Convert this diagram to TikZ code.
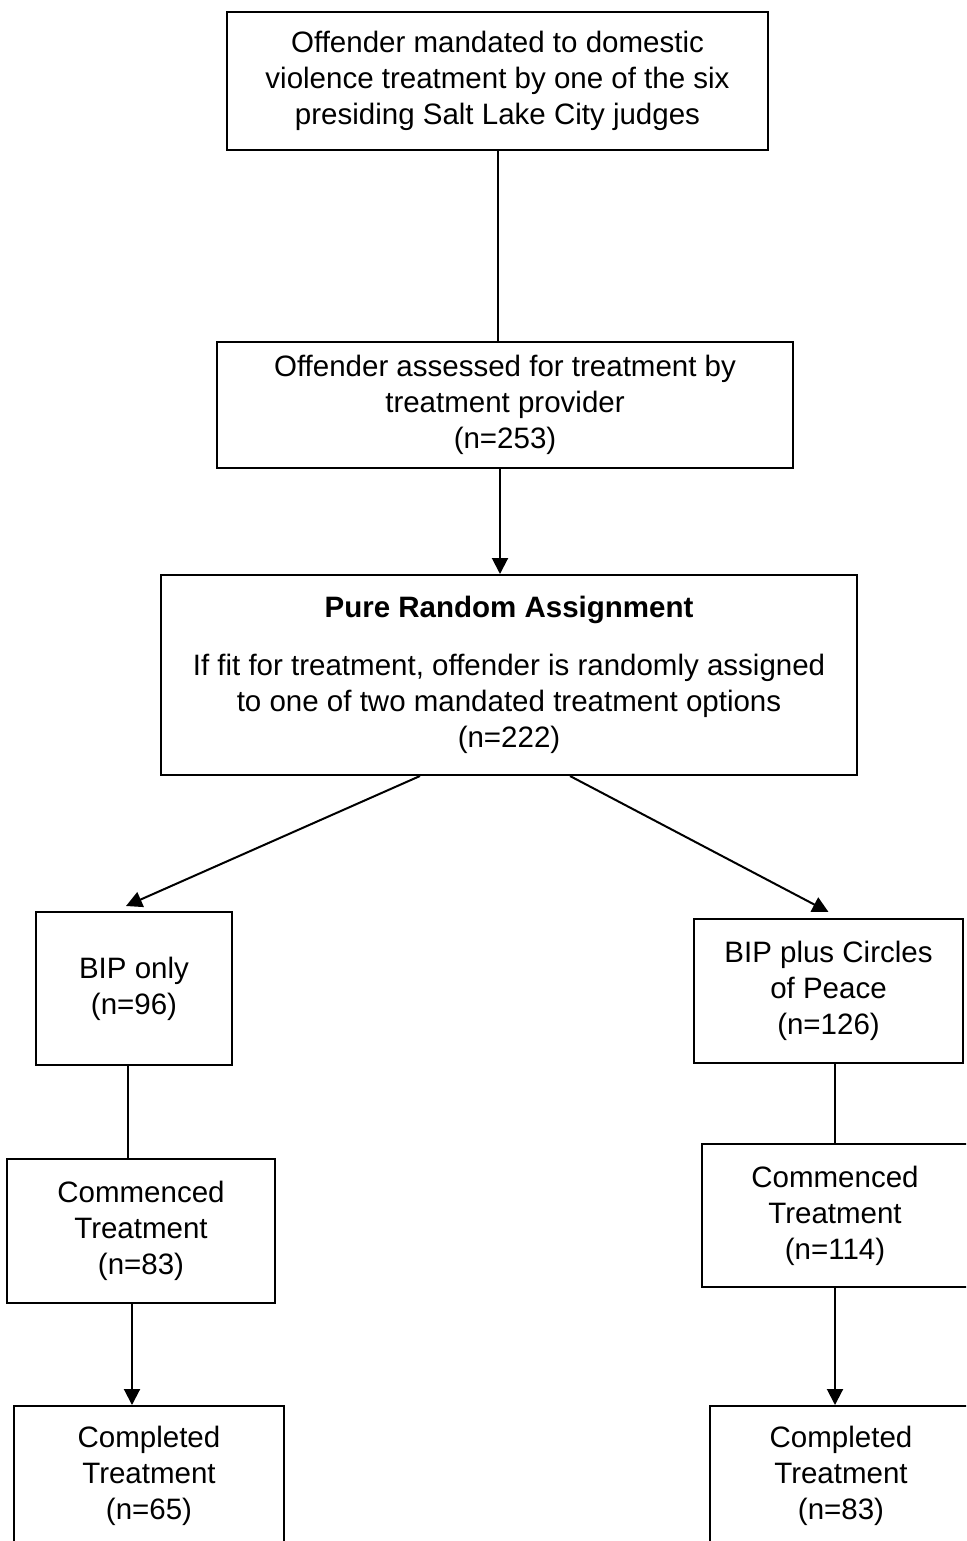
\documentclass[tikz,border=0pt]{standalone}
\usepackage{fontspec}
\setmainfont{Liberation Sans}
\usetikzlibrary{arrows.meta}
\tikzset{
  box/.style={draw=black, line width=1pt, rectangle, align=center, inner sep=2pt,
    font=\fontsize{14.75}{18}\selectfont},
  arr/.style={line width=1pt, -{Triangle[length=8pt,width=8pt]}},
  link/.style={line width=1pt}
}
\begin{document}
\begin{tikzpicture}[x=0.5pt, y=-0.5pt]
  % page frame
  \clip (0,0) rectangle (966,1541);
  \fill[white] (0,0) rectangle (966,1541);
  % intake boxes
  \node[box, minimum width=270.5pt, minimum height=69pt] (judges) at (497.5,81)
    {Offender mandated to domestic\\violence treatment by one of the six\\presiding Salt Lake City judges};
  \node[box, minimum width=288pt, minimum height=63pt] (assess) at (505,405)
    {Offender assessed for treatment by\\treatment provider\\(n=253)};
  \node[box, minimum width=348pt, minimum height=100pt] (random) at (509,675)
    {\textbf{Pure Random Assignment}\\[11pt]If fit for treatment, offender is randomly assigned\\to one of two mandated treatment options\\(n=222)};
  % left branch
  \node[box, minimum width=98pt, minimum height=76.5pt] (bipA) at (134,988.5)
    {BIP only\\(n=96)};
  \node[box, minimum width=134pt, minimum height=72pt] (startA) at (141,1231)
    {Commenced\\Treatment\\(n=83)};
  \node[box, minimum width=135pt, minimum height=70pt] (doneA) at (149,1476)
    {Completed\\Treatment\\(n=65)};
  % right branch
  \node[box, minimum width=134.5pt, minimum height=72pt] (bipB) at (828.5,991)
    {BIP plus Circles\\of Peace\\(n=126)};
  \node[box, minimum width=133pt, minimum height=71.5pt] (startB) at (835,1215.5)
    {Commenced\\Treatment\\(n=114)};
  \node[box, minimum width=131pt, minimum height=70pt] (doneB) at (841,1476)
    {Completed\\Treatment\\(n=83)};
  % connectors
  \draw[link] (judges.south) -- (judges.south |- assess.north);
  \draw[arr] ([xshift=-2.5pt]assess.south) -- ([xshift=-2.5pt]assess.south |- random.north);
  \draw[arr] ([xshift=-44.5pt]random.south) -- ([xshift=-4pt,yshift=2.5pt]bipA.north);
  \draw[arr] ([xshift=30.5pt]random.south) -- ([yshift=3pt]bipB.north);
  \draw[link] ([xshift=-3pt]bipA.south) -- ([xshift=-3pt]bipA.south |- startA.north);
  \draw[arr] ([xshift=-4.5pt]startA.south) -- ([xshift=-4.5pt]startA.south |- doneA.north);
  \draw[link] (startB.north |- bipB.south) -- (startB.north);
  \draw[arr] (startB.south) -- (startB.south |- doneB.north);
\end{tikzpicture}
\end{document}
